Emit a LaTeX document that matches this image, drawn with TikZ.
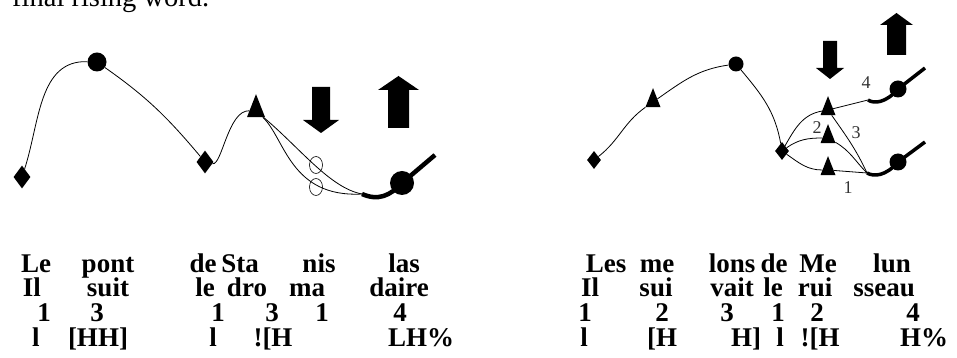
\documentclass[tikz,border=0pt]{standalone}
\usepackage{fontspec}
\setmainfont{Liberation Serif}
\usetikzlibrary{shapes.geometric}

\begin{document}
\begin{tikzpicture}[
x=1pt,
y=1pt,
tone/.style={
  line width=0.8pt
  },
dia/.style={
  diamond,
  fill,
  inner sep=0pt,
  minimum width=17pt,
  minimum height=23pt
  },
sdia/.style={
  dia,
  minimum width=14pt,
  minimum height=18pt
  },
dot/.style={
  circle,
  fill,
  inner sep=0pt,
  minimum size=19pt
  },
tri/.style={
  isosceles triangle,
  shape border rotate=90,
  isosceles triangle stretches,
  fill,
  inner sep=0pt,
  minimum width=18pt,
  minimum height=23pt
  },
stri/.style={
  tri,
  minimum width=15pt,
  minimum height=19pt
  },
ring/.style={
  ellipse,
  draw,
  line width=0.6pt,
  inner sep=0pt,
  minimum width=13pt,
  minimum height=17pt
  },
hook/.style={
  line width=4.5pt
  },
syl/.style={
  anchor=base,
  inner sep=0pt,
  font=\fontsize{27}{27}\selectfont\bfseries
  },
lab/.style={
  inner sep=0pt,
  font=\fontsize{18}{18}\selectfont,
  text=black!80
  }
]
\useasboundingbox (0,0) rectangle (957,358);

\node[anchor=base west, inner sep=0pt, font=\fontsize{28.5}{28.5}\selectfont] (cap) at (12,351) {final rising word.};

% left contour
\node[dia] (d1) at (22,181) {};
\node[dot] (c1) at (97,296) {};
\node[dia] (d2) at (205,196) {};
\node[tri] (t1) at (256,247) {};
\node[ring] (e1) at (316,193) {};
\node[ring] (e2) at (316,171) {};
\node[dot, minimum size=24pt] (c2) at (402,175) {};
\coordinate (s1) at (362,164);
\coordinate (f1) at (435,203);

\draw[tone] (d1) to[out=72,in=178] (c1);
\draw[tone] (c1) to[out=-35,in=130] (d2);
\draw[tone] (d2) .. controls (222,192) and (228,248) .. (t1);
\draw[tone] (t1) .. controls (300,210) and (330,170) .. (s1);
\draw[tone] (t1) .. controls (285,220) and (290,160) .. (s1);
\draw[hook] (s1) .. controls (378,157) and (390,162) .. (c2.center) -- (f1);

\fill (312,271) -- (330,271) -- (330,238) -- (339,238) -- (321,225) -- (303,238) -- (312,238) -- cycle;
\fill (388,230) -- (409,230) -- (409,268) -- (419,268) -- (398.5,282) -- (378,268) -- (388,268) -- cycle;

% right contour
\node[sdia] (d3) at (594,198) {};
\node[stri] (t2) at (653,256) {};
\node[dot, minimum size=15pt] (c3) at (736,294) {};
\node[sdia] (d4) at (782,207) {};
\node[stri] (ta) at (828,248) {};
\node[stri] (tb) at (828,220) {};
\node[stri] (tc) at (828,188) {};
\node[dot, minimum size=17pt] (c4) at (898,269) {};
\node[dot, minimum size=17pt] (c5) at (898,196) {};
\coordinate (s2) at (868,258);
\coordinate (f2) at (925,290);
\coordinate (s3) at (867,185);
\coordinate (f3) at (925,216);

\draw[tone] (d3) to[out=38,in=215] (t2);
\draw[tone] (t2) to[out=35,in=188] (c3);
\draw[tone] (c3) to[out=-50,in=100] (d4);
\draw[tone] (d4) to[out=60,in=190] (ta);
\draw[tone] (d4) to[out=35,in=180] (tb);
\draw[tone] (d4) to[out=-35,in=180] (tc);
\draw[tone] (ta) -- (s2);
\draw[tone] (ta) to[out=-55,in=115] (s3);
\draw[tone] (tb) to[out=-30,in=135] (s3);
\draw[tone] (tc) -- (s3);
\draw[hook, line width=3.5pt] (s2) .. controls (874,254) and (886,255) .. (c4.center) -- (f2);
\draw[hook, line width=3.5pt] (s3) .. controls (874,181) and (886,182) .. (c5.center) -- (f3);

\node[lab] (n4) at (866,275) {4};
\node[lab] (n2) at (817,230) {2};
\node[lab] (n3) at (856,225) {3};
\node[lab] (n1) at (848,170) {1};

\fill (823,317) -- (837,317) -- (837,290) -- (844,290) -- (830,279) -- (816,290) -- (823,290) -- cycle;
\fill (887,303) -- (906,303) -- (906,333) -- (913,333) -- (896.5,345) -- (880,333) -- (887,333) -- cycle;

% syllables, left
\foreach \x/\w [count=\i] in {36/Le,108/pont,203/de,240/Sta,319/nis,404/las}
  \node[syl] (la-\i) at (\x,85) {\w};
\foreach \x/\w [count=\i] in {32/Il,108/suit,205/le,247/dro,307/ma,399/daire}
  \node[syl] (lb-\i) at (\x,61) {\w};
\foreach \x/\w [count=\i] in {44/1,97/3,218/1,272/3,322/1,400/4}
  \node[syl] (lc-\i) at (\x,36) {\w};
\foreach \x/\w [count=\i] in {36/l,98/{[HH]},213/l,273/{![H},421/LH\%}
  \node[syl] (ld-\i) at (\x,11) {\w};

% syllables, right
\foreach \x/\w [count=\i] in {606/Les,657/me,732/lons,774/de,818/Me,892/lun}
  \node[syl] (ra-\i) at (\x,85) {\w};
\foreach \x/\w [count=\i] in {590/Il,656/sui,732/vait,773/le,815/rui,884/sseau}
  \node[syl] (rb-\i) at (\x,61) {\w};
\foreach \x/\w [count=\i] in {585/1,662/2,727/3,778/1,817/2,913/4}
  \node[syl] (rc-\i) at (\x,36) {\w};
\foreach \x/\w [count=\i] in {584/l,662/{[H},746/{H]},780/l,820/{![H},924/H\%}
  \node[syl] (rd-\i) at (\x,11) {\w};
\end{tikzpicture}
\end{document}
